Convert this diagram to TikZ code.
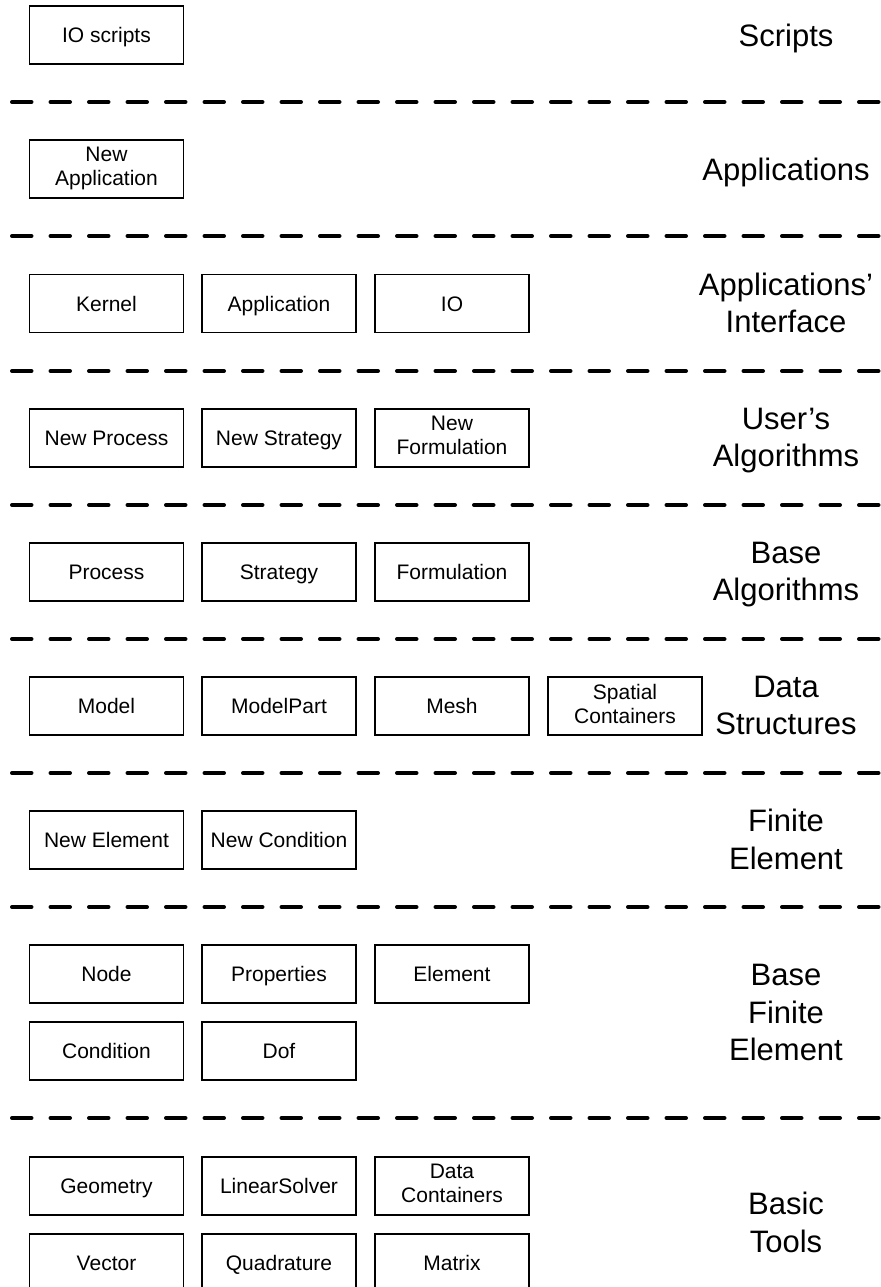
\documentclass[tikz,border=0pt]{standalone}
\usepackage{fontspec}
\setmainfont{Liberation Sans}
\usepackage{tikz}
\usetikzlibrary{positioning}

% struts so that capitals sit in the middle whatever the descenders
\newcommand\boxstrut{\vrule width0pt height10pt depth2.5pt}
\newcommand\namestrut{\vrule width0pt height14.6pt depth3.5pt}

\tikzset{
  layerbox/.style={draw,line width=0.75pt,minimum width=77pt,minimum height=29pt,
    inner sep=0pt,align=center,font=\fontsize{10.5}{12}\selectfont,
    execute at begin node=\boxstrut,execute at end node=\boxstrut},
  layername/.style={align=center,inner sep=0pt,font=\fontsize{15.5}{18.75}\selectfont,
    execute at begin node=\namestrut,execute at end node=\namestrut},
  divider/.style={line width=2pt,line cap=round,dash pattern=on 9.75pt off 9.5pt}
}

\begin{document}
\begin{tikzpicture}[x=0.5pt,y=-0.5pt]
  \useasboundingbox (0,0) rectangle (880,1287);
  % dashed separators between the layers
  \foreach \y in {102,236,371,505,639,773,907,1118}
    \draw[divider] (12,\y) -- (880,\y);
  % boxes, one column every 172.8 units
  \foreach \name/\x/\y/\lab in {
      ioscripts/106.5/35/{IO scripts},
      newapp/106.5/169/{New\\Application},
      kernel/106.5/303.5/{Kernel}, appiface/279/303.5/{Application}, io/452/303.5/{IO},
      newproc/106.5/438/{New Process}, newstrat/279/438/{New Strategy}, newform/452/438/{New\\Formulation},
      proc/106.5/572/{Process}, strat/279/572/{Strategy}, form/452/572/{Formulation},
      model/106.5/706/{Model}, mpart/279/706/{ModelPart}, mesh/452/706/{Mesh}, spatial/625/706/{Spatial\\Containers},
      newelem/106.5/840/{New Element}, newcond/279/840/{New Condition},
      fenode/106.5/974/{Node}, props/279/974/{Properties}, elem/452/974/{Element},
      cond/106.5/1051/{Condition}, dof/279/1051/{Dof},
      geom/106.5/1186/{Geometry}, linsolver/279/1186/{LinearSolver}, datacont/452/1186/{Data\\Containers},
      vec/106.5/1263/{Vector}, quad/279/1263/{Quadrature}, mat/452/1263/{Matrix}}
    \node[layerbox] (\name) at (\x,\y) {\lab};
  % layer names on the right
  \foreach \name/\y/\lab in {
      lscripts/35/{Scripts},
      lapps/169/{Applications},
      liface/306.5/{Applications’\\Interface},
      luser/441/{User’s\\Algorithms},
      lbasealg/575/{Base\\Algorithms},
      ldata/709/{Data\\Structures},
      lfe/843/{Finite\\Element},
      lbasefe/1016/{Base\\Finite\\Element},
      ltools/1226/{Basic\\Tools}}
    \node[layername] (\name) at (786,\y) {\lab};
\end{tikzpicture}
\end{document}
